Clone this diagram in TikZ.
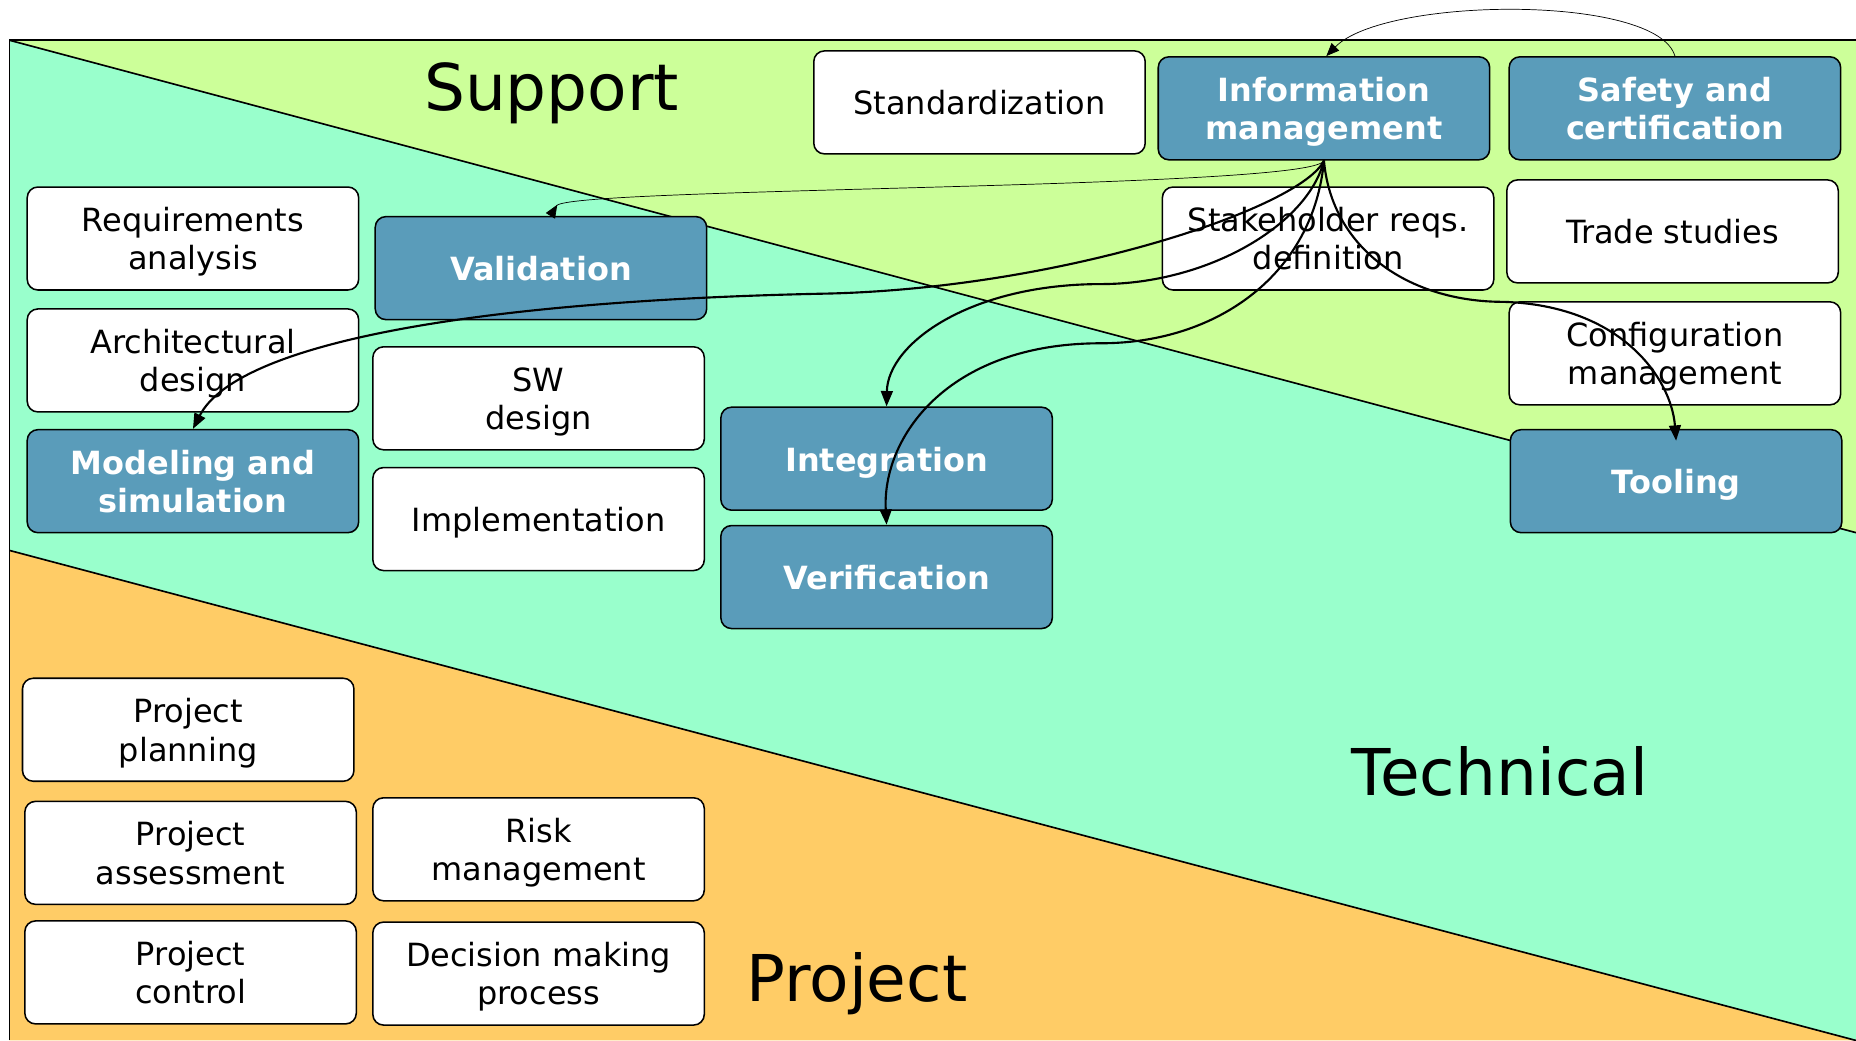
\documentclass[tikz,border=0pt]{standalone}
\usepackage{fontspec}
\setmainfont{DejaVu Sans}
\usetikzlibrary{arrows.meta}
\definecolor{supportc}{HTML}{CCFF99}
\definecolor{techc}{HTML}{99FFCC}
\definecolor{projc}{HTML}{FFCC66}
\definecolor{bluec}{HTML}{5A9CBA}
\begin{document}
\begin{tikzpicture}[x=1pt,y=-1pt,
  box/.style={draw=black, line width=1.3pt, rounded corners=9pt, minimum width=280pt, minimum height=87pt, align=center, inner sep=0pt, text height=21pt, text depth=0pt},
  two/.style={text height=53pt, text depth=0pt},
  wbox/.style={box, fill=white, text=black, font=\fontsize{27}{32.5}\selectfont},
  bbox/.style={box, fill=bluec, text=white, font=\fontsize{27}{32.5}\selectfont\bfseries},
  big/.style={font=\fontsize{54.5}{60}\selectfont, anchor=base, inner sep=0pt},
  conn/.style={line width=1.8pt, -{Triangle[length=13pt,width=10pt]}},
  thinconn/.style={line width=0.6pt, -{Triangle[length=11pt,width=9pt]}},
  thinrev/.style={line width=0.6pt, -{Triangle[reversed,length=11pt,width=9pt]}},
  divider/.style={line width=1.4pt}]
\useasboundingbox (0,0) rectangle (1568,879);
% regions
\fill[white] (0,0) rectangle (1568,879);
\fill[projc] (8,465) -- (1568,879) -- (8,879) -- cycle;
\fill[techc] (8,34) -- (1568,450) -- (1568,879) -- (8,465) -- cycle;
\fill[supportc] (8,34) -- (1568,34) -- (1568,450) -- cycle;
\draw[divider] (1568,34) -- (8,34) -- (8,879);
\draw[divider] (8,34) -- (1568,450);
\draw[divider] (8,465) -- (1568,879);
% labels
\node[big] (lsup) at (466,93) {Support};
\node[big] (ltech) at (1267,672) {Technical};
\node[big] (lproj) at (724,846) {Project};
% boxes
\node[wbox] (std) at (827.5,86.5) {Standardization};
\node[bbox,two] (im) at (1118.5,91.5) {Information\\management};
\node[bbox,two] (safety) at (1415,91.5) {Safety and\\certification};
\node[wbox,two] (req) at (163,201.5) {Requirements\\analysis};
\node[bbox] (val) at (457,226.5) {Validation};
\node[wbox,two] (stake) at (1122,201.5) {Stakeholder reqs.\\definition};
\node[wbox] (trade) at (1413,195.5) {Trade studies};
\node[wbox,two] (arch) at (163,304.5) {Architectural\\design};
\node[wbox,two] (sw) at (455,336.5) {SW\\design};
\node[wbox,two] (conf) at (1415,298.5) {Configuration\\management};
\node[bbox,two] (model) at (163,406.5) {Modeling and\\simulation};
\node[bbox] (integ) at (749,387.5) {Integration};
\node[bbox] (tool) at (1416,406.5) {Tooling};
\node[wbox] (impl) at (455,438.5) {Implementation};
\node[bbox] (verif) at (749,487.5) {Verification};
\node[wbox,two] (pplan) at (159,616.5) {Project\\planning};
\node[wbox,two] (passess) at (161,720.5) {Project\\assessment};
\node[wbox,two] (risk) at (455,717.5) {Risk\\management};
\node[wbox,two] (pctrl) at (161,821.5) {Project\\control};
\node[wbox,two] (dec) at (455,822.5) {Decision making\\process};
% connectors
\draw[thinconn] (safety.north) .. controls (1400,-5) and (1170,-3) .. ([xshift=2pt]im.north);
\draw[thinrev] (im.south) .. controls (1110,160) and (480,158) .. ([xshift=8pt]val.north);
\draw[conn] (im.south) .. controls (1100,175) and (900,243) .. (700,248) .. controls (400,254) and (200,290) .. (model.north);
\draw[conn] (im.south) .. controls (1105,190) and (1020,240) .. (930,240) .. controls (820,240) and (750,290) .. (integ.north);
\draw[conn] (im.south) .. controls (1110,230) and (1030,290) .. (930,290) .. controls (800,290) and (745,370) .. (verif.north);
\draw[conn] (im.south) .. controls (1125,210) and (1190,255) .. (1270,255) .. controls (1370,258) and (1412,320) .. ([yshift=-10pt]tool.north);
\end{tikzpicture}
\end{document}
